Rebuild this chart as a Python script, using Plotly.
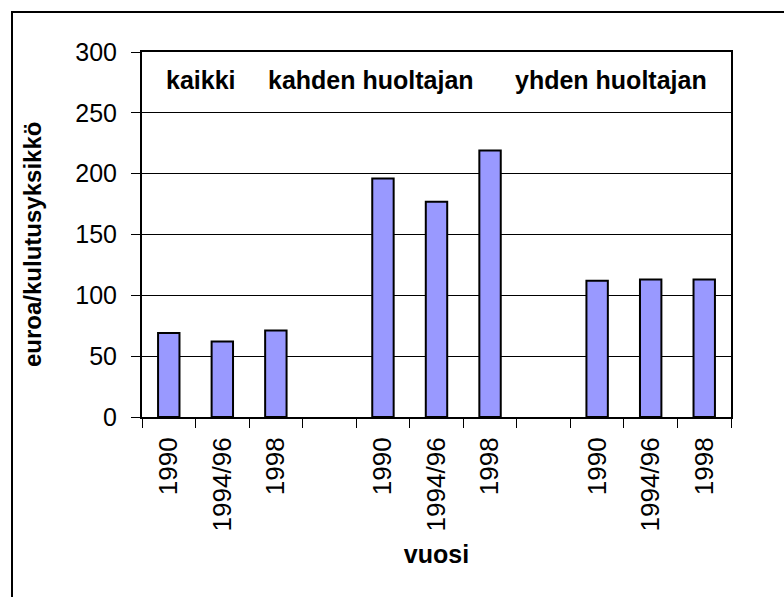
import plotly.graph_objects as go

groups = ["kaikki", "kahden huoltajan", "yhden huoltajan"]
years = ["1990", "1994/96", "1998"]
kaikki = [69, 62, 71]
kahden = [196, 177, 219]
yhden = [112, 113, 113]

# category keys must be unique, the empty slots separate the groups
keys = []
labels = []
vals = []
for g, series in zip(groups, [kaikki, kahden, yhden]):
    if keys:
        keys.append("gap " + g)
        labels.append("")
        vals.append(None)
    for y, v in zip(years, series):
        keys.append(g + " " + y)
        labels.append(y)
        vals.append(v)

W, H = 784, 597
L, R, T, B = 142, 53, 52, 180
pw, ph = W - L - R, H - T - B

font = "Liberation Sans, Arial, sans-serif"

fig = go.Figure()
fig.add_trace(go.Bar(
    x=keys, y=vals,
    marker=dict(color="#9999FF", line=dict(color="black", width=2)),
))

fig.update_layout(
    width=W, height=H,
    margin=dict(l=L, r=R, t=T, b=B),
    paper_bgcolor="white", plot_bgcolor="white",
    bargap=0.6,
    showlegend=False,
    font=dict(family=font, size=23, color="black"),
)

fig.update_xaxes(
    type="category",
    tickmode="array", tickvals=keys, ticktext=labels,
    tickangle=-90,
    tickson="boundaries",
    tickfont=dict(size=26),
    ticks="outside", ticklen=9, tickcolor="black", tickwidth=1,
    ticklabelstandoff=8,
    showline=True, linecolor="black", linewidth=2, mirror=True,
    showgrid=False, automargin=False,
    title=dict(text="<b>vuosi</b>", standoff=15, font=dict(size=25)),
)
fig.update_yaxes(
    range=[0, 300], dtick=50,
    tickfont=dict(size=25),
    ticks="outside", ticklen=9, tickcolor="black", tickwidth=1,
    ticklabelstandoff=9,
    showline=True, linecolor="black", linewidth=2, mirror=True,
    showgrid=True, gridcolor="black", gridwidth=1,
    zeroline=False, automargin=False,
)

# y title sits a little below the plot middle in the original
fig.add_annotation(
    text="<b>euroa/kulutusyksikkö</b>", textangle=-90,
    x=(33 - L) / pw, xref="paper", y=(T + ph - 245) / ph, yref="paper",
    xanchor="center", yanchor="middle", showarrow=False,
    font=dict(size=24),
)

# group names inside the plot, left aligned
for g, px in zip(groups, [164, 266, 513]):
    fig.add_annotation(
        text="<b>" + g + "</b>", x=(px - L) / pw, xref="paper",
        y=277, yref="y", xanchor="left", yanchor="middle",
        showarrow=False, font=dict(size=25),
    )

# outer chart frame, runs off the right and bottom of the picture
fig.add_shape(
    type="rect", xref="paper", yref="paper",
    x0=(12 - L) / pw, x1=(W + 10 - L) / pw,
    y0=-(B + 10) / ph, y1=(ph + T - 12) / ph,
    line=dict(color="black", width=2), layer="below",
)

# page body has an 8px default margin, drop it so the chart sits at 0,0
fig.write_html("out.html", config={"displayModeBar": False},
               post_script="document.body.style.margin='0';")
